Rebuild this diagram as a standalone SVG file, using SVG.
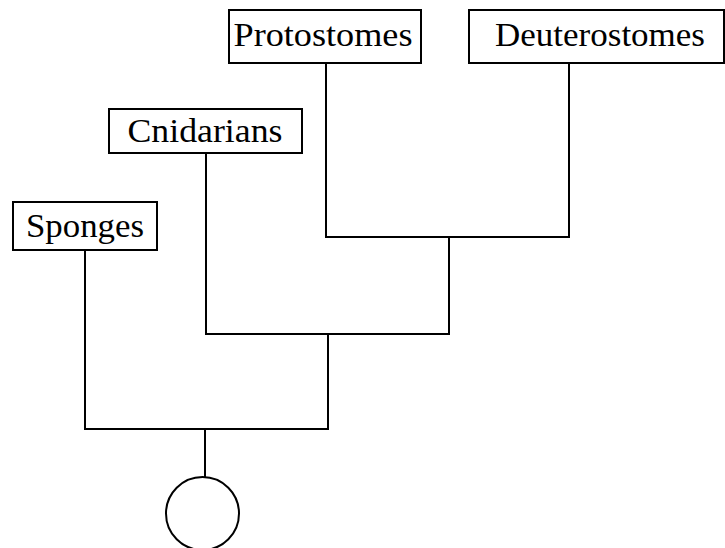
<svg xmlns="http://www.w3.org/2000/svg" width="725" height="548" viewBox="0 0 725 548">
<style>
.box{fill:#fff;stroke:#000;stroke-width:2}
.lbl{font-family:"Liberation Serif","DejaVu Serif",serif;font-size:33px;fill:#000;text-anchor:middle}
.ln{fill:none;stroke:#000;stroke-width:2}
</style>
<rect width="725" height="548" fill="#fff"/>
<g id="connectors">
<path class="ln" d="M326 63V237H569V63"/>
<path class="ln" d="M449 237V334H206V153"/>
<path class="ln" d="M328 334V429H85V250"/>
<path class="ln" d="M205 429V477"/>
</g>
<g id="root"><circle class="box" cx="202.5" cy="513.5" r="36.5"/></g>
<g id="sponges"><rect class="box" x="13" y="202" width="144" height="48"/><text class="lbl" x="85" y="237" textLength="118" lengthAdjust="spacingAndGlyphs">Sponges</text></g>
<g id="cnidarians"><rect class="box" x="109" y="109" width="193" height="44"/><text class="lbl" x="205" y="142" textLength="155" lengthAdjust="spacingAndGlyphs">Cnidarians</text></g>
<g id="protostomes"><rect class="box" x="229" y="10" width="192" height="53"/><text class="lbl" x="323" y="46" textLength="179" lengthAdjust="spacingAndGlyphs">Protostomes</text></g>
<g id="deuterostomes"><rect class="box" x="469" y="10" width="255" height="53"/><text class="lbl" x="600" y="46" textLength="210" lengthAdjust="spacingAndGlyphs">Deuterostomes</text></g>
</svg>
